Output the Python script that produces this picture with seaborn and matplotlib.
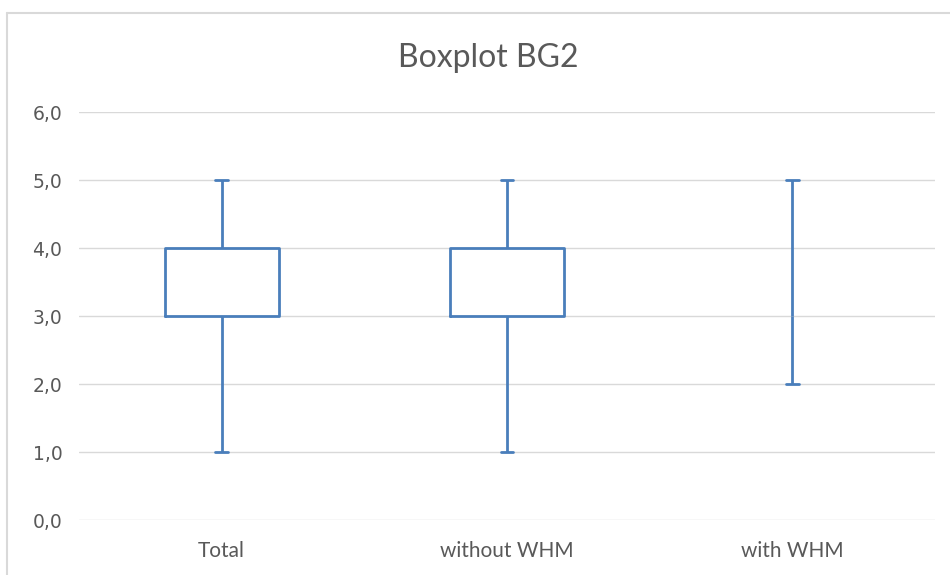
import matplotlib
matplotlib.use("Agg")
import matplotlib.pyplot as plt
import seaborn as sns
import pandas as pd
import numpy as np
from matplotlib.lines import Line2D

# Data: raw values whose quartiles reproduce the chart (min, Q1, median, Q3, max)
categories = ["Total", "without WHM", "with WHM"]
total_vals = [1, 3, 3, 4, 5]
without_whm_vals = [1, 3, 3, 4, 5]
with_whm_vals = [2, 3, 3, 3, 5]
y_ticks = [0, 1, 2, 3, 4, 5, 6]
y_tick_labels = ["0,0", "1,0", "2,0", "3,0", "4,0", "5,0", "6,0"]
title = "Boxplot BG2"

df = pd.DataFrame({
    "group": [categories[0]] * len(total_vals)
    + [categories[1]] * len(without_whm_vals)
    + [categories[2]] * len(with_whm_vals),
    "value": total_vals + without_whm_vals + with_whm_vals,
})

sns.set_theme(style="white")
plt.rcParams["font.family"] = ["Lato", "DejaVu Sans"]

blue = "#4A7EBB"
fig = plt.figure(figsize=(9.5, 5.75), dpi=100)
ax = fig.add_axes([79 / 950, 55 / 575, (935 - 79) / 950, (463 - 55) / 575])

sns.boxplot(
    data=df, x="group", y="value", order=categories, ax=ax,
    whis=(0, 100), width=0.4, fill=False, color=blue, linewidth=2,
    showfliers=False,
    medianprops={"visible": False},
    capwidths=0.045,
)

# a degenerate (zero-height) box is not visible in the reference
for ln in ax.lines:
    xd = np.asarray(ln.get_xdata(), dtype=float)
    yd = np.asarray(ln.get_ydata(), dtype=float)
    if len(yd) > 2 and np.ptp(yd) == 0 and np.ptp(xd) > 0.3:
        ln.set_visible(False)

ax.set_ylim(0, 6)
ax.set_xlim(-0.5, 2.5)
ax.set_yticks(y_ticks)
ax.set_yticklabels(y_tick_labels, fontfamily="DejaVu Sans")
ax.yaxis.grid(True, color="#D9D9D9", linewidth=1)
ax.set_axisbelow(True)
for s in ax.spines.values():
    s.set_visible(False)
ax.set_xlabel("")
ax.set_ylabel("")
ax.tick_params(axis="y", length=0, pad=12, labelsize=13.5, labelcolor="#595959")
ax.tick_params(axis="x", length=0, pad=15, labelsize=15, labelcolor="#595959")

fig.text(488 / 950, 1 - 58 / 575, title, ha="center", va="center",
         fontsize=23, color="#595959")

# chart-area border (left and top edges visible in crop)
fig.add_artist(Line2D([7 / 950, 7 / 950], [0, 1 - 13 / 575], transform=fig.transFigure,
                      color="#D9D9D9", linewidth=1.5))
fig.add_artist(Line2D([7 / 950, 1], [1 - 13 / 575, 1 - 13 / 575], transform=fig.transFigure,
                      color="#D9D9D9", linewidth=1.5))

fig.savefig("out.png", dpi=100, facecolor="white")
